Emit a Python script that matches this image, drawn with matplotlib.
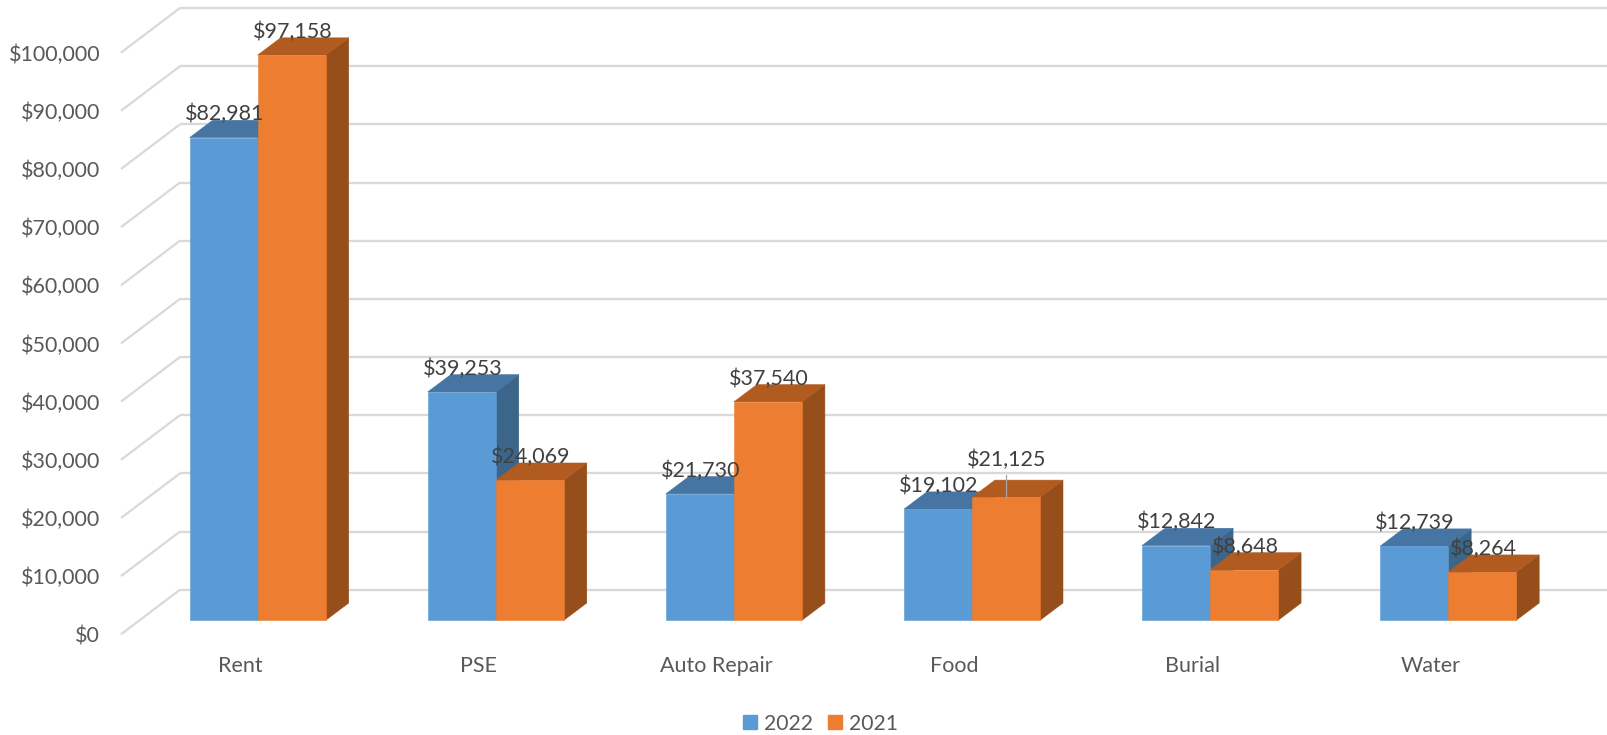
import matplotlib
matplotlib.use("Agg")
import matplotlib.pyplot as plt
from matplotlib.patches import Polygon, Patch
from matplotlib.ticker import StrMethodFormatter

categories = ["Rent", "PSE", "Auto Repair", "Food", "Burial", "Water"]
values_2022 = [82981, 39253, 21730, 19102, 12842, 12739]
values_2021 = [97158, 24069, 37540, 21125, 8648, 8264]
y_ticks = list(range(0, 100001, 10000))

W, H = 1608, 735
plt.rcParams["font.family"] = ["Lato", "DejaVu Sans"]
FS = 15.5

fig = plt.figure(figsize=(W / 100, H / 100), dpi=100, facecolor="white")
# axes = the front plane of the 3D box
L, R, B, T = 121, 1549.6, 634.3, 52.6
ax = fig.add_axes([L / W, 1 - B / H, (R - L) / W, (B - T) / H])
ax.set_xlim(-0.5, 5.5)
ax.set_ylim(0, 100000)
for s in ax.spines.values():
    s.set_visible(False)
ax.patch.set_alpha(0)

px_x = 6 / (R - L)
px_y = 100000 / (B - T)
WALL_DX, WALL_DY = 59 * px_x, 44.6 * px_y
BF_DX, BF_DY = 17.6 * px_x, 14 * px_y
BB_DX, BB_DY = 40.6 * px_x, 31.3 * px_y
BAR_W = 1 / 3.5

ax.set_xticks(range(len(categories)), categories)
ax.set_yticks(y_ticks)
ax.yaxis.set_major_formatter(StrMethodFormatter("${x:,.0f}"))
ax.tick_params(axis="y", length=0, pad=15, labelsize=FS, labelcolor="#595959")
ax.tick_params(axis="x", length=0, pad=15.7, labelsize=FS, labelcolor="#595959")

GRID = "#D9D9D9"
for v in y_ticks:
    ax.plot([-0.5, -0.5 + WALL_DX], [v, v + WALL_DY], color=GRID, lw=1.6,
            clip_on=False, zorder=1, solid_capstyle="butt")
    ax.plot([-0.5 + WALL_DX, 5.5 + WALL_DX], [v + WALL_DY, v + WALL_DY], color=GRID,
            lw=1.7, clip_on=False, zorder=1, solid_capstyle="butt")

series = [
    ("2022", values_2022, -BAR_W, "#5B9BD5", "#4675A3", "#3C6689"),
    ("2021", values_2021, 0, "#ED7D31", "#B25B21", "#964F1B"),
]
z = 2
for name, vals, off, front, top, side in series:
    for i, v in enumerate(vals):
        x0 = i + off + BF_DX
        x1 = x0 + BAR_W
        y0, y1 = BF_DY, BF_DY + v
        ddx, ddy = BB_DX - BF_DX, BB_DY - BF_DY
        for pts, col in [
            ([(x1, y0), (x1 + ddx, y0 + ddy), (x1 + ddx, y1 + ddy), (x1, y1)], side),
            ([(x0, y1), (x1, y1), (x1 + ddx, y1 + ddy), (x0 + ddx, y1 + ddy)], top),
        ]:
            ax.add_patch(Polygon(pts, closed=True, fc=col, ec=col, lw=0.4, clip_on=False, zorder=z))
        ax.bar(x0, v, width=BAR_W, bottom=y0, align="edge", color=front, edgecolor=front,
               linewidth=0.4, clip_on=False, zorder=z + 0.5)

LABEL_DY = 25.5
RAISED = ("Food", "2021")
for name, vals, off, front, top, side in series:
    for i, v in enumerate(vals):
        cx = i + off + BF_DX + BAR_W / 2
        cy = BF_DY + v
        raised = (categories[i], name) == RAISED
        dy = 40 if raised else LABEL_DY
        if raised:
            ax.plot([cx, cx], [cy, cy + 22.7 * px_y], color="#A6A6A6", lw=0.9,
                    clip_on=False, zorder=9)
        ax.annotate(f"${v:,.0f}", (cx, cy), xytext=(0.7, dy * 0.72), textcoords="offset points",
                    ha="center", va="center_baseline", fontsize=FS, color="#404040", zorder=10,
                    annotation_clip=False)

handles = [Patch(color=s[3], label=s[0]) for s in series]
fig.legend(handles=handles, loc="center", bbox_to_anchor=(820.5 / W, 1 - 723.8 / H), ncol=2,
           frameon=False, fontsize=15.2, labelcolor="#595959", handlelength=0.65, handleheight=0.65,
           handletextpad=0.33, columnspacing=0.75)

fig.savefig("out.png", dpi=100, facecolor="white")
